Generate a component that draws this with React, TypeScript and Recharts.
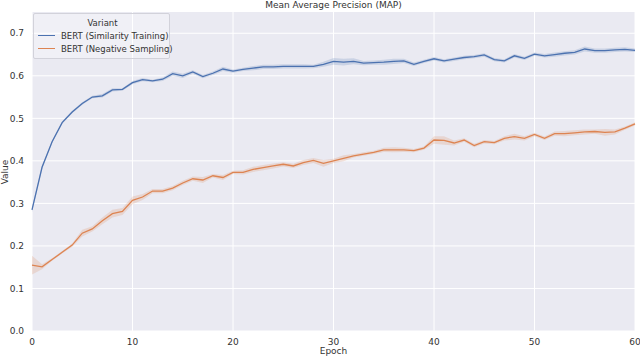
import { ComposedChart, Line, Area, XAxis, YAxis, CartesianGrid } from 'recharts'

const epochs = [
  0, 1, 2, 3, 4, 5, 6, 7, 8, 9, 10, 11, 12, 13, 14, 15, 16, 17, 18, 19, 20,
  21, 22, 23, 24, 25, 26, 27, 28, 29, 30, 31, 32, 33, 34, 35, 36, 37, 38, 39, 40,
  41, 42, 43, 44, 45, 46, 47, 48, 49, 50, 51, 52, 53, 54, 55, 56, 57, 58, 59, 60,
]

// BERT (Similarity Training)
const similarityMean = [
  0.285, 0.385, 0.445, 0.49, 0.515, 0.535, 0.55, 0.553, 0.567, 0.568, 0.584,
  0.591, 0.588, 0.592, 0.605, 0.6, 0.609, 0.598, 0.606, 0.616, 0.611,
  0.615, 0.618, 0.621, 0.621, 0.622, 0.622, 0.622, 0.622, 0.627, 0.634,
  0.632, 0.634, 0.63, 0.631, 0.632, 0.634, 0.635, 0.627, 0.634, 0.64,
  0.635, 0.639, 0.643, 0.645, 0.649, 0.638, 0.635, 0.647, 0.641, 0.651,
  0.647, 0.65, 0.653, 0.655, 0.663, 0.659, 0.659, 0.661, 0.662, 0.66,
]
const similaritySpread = [
  0.006, 0.004, 0.003, 0.003, 0.003, 0.003, 0.003, 0.004, 0.004, 0.003, 0.004,
  0.004, 0.003, 0.004, 0.005, 0.005, 0.004, 0.004, 0.004, 0.005, 0.004,
  0.004, 0.005, 0.005, 0.005, 0.005, 0.005, 0.005, 0.004, 0.006, 0.008,
  0.008, 0.007, 0.005, 0.005, 0.006, 0.006, 0.005, 0.004, 0.004, 0.004,
  0.004, 0.004, 0.004, 0.004, 0.004, 0.004, 0.004, 0.004, 0.004, 0.004,
  0.004, 0.005, 0.005, 0.005, 0.006, 0.005, 0.005, 0.005, 0.005, 0.004,
]

// BERT (Negative Sampling)
const negativeMean = [
  0.155, 0.151, 0.168, 0.185, 0.202, 0.23, 0.24, 0.259, 0.276, 0.281, 0.307,
  0.315, 0.329, 0.329, 0.336, 0.348, 0.358, 0.355, 0.365, 0.361, 0.373,
  0.373, 0.38, 0.384, 0.388, 0.392, 0.388, 0.396, 0.401, 0.394, 0.4,
  0.406, 0.412, 0.416, 0.42, 0.426, 0.426, 0.426, 0.424, 0.43, 0.449,
  0.448, 0.442, 0.449, 0.436, 0.445, 0.443, 0.453, 0.457, 0.453, 0.462,
  0.453, 0.464, 0.464, 0.466, 0.468, 0.469, 0.467, 0.468, 0.477, 0.487,
]
const negativeSpread = [
  0.022, 0.006, 0.003, 0.003, 0.004, 0.008, 0.006, 0.008, 0.009, 0.008, 0.009,
  0.007, 0.005, 0.005, 0.005, 0.005, 0.005, 0.007, 0.004, 0.006, 0.004,
  0.005, 0.006, 0.006, 0.006, 0.005, 0.005, 0.006, 0.006, 0.008, 0.005,
  0.007, 0.004, 0.004, 0.004, 0.005, 0.006, 0.005, 0.004, 0.004, 0.009,
  0.01, 0.006, 0.004, 0.004, 0.004, 0.004, 0.005, 0.007, 0.005, 0.004,
  0.004, 0.005, 0.006, 0.006, 0.006, 0.005, 0.008, 0.006, 0.004, 0.004,
]

const xTicks = [0, 10, 20, 30, 40, 50, 60]
const yTicks = [0, 0.1, 0.2, 0.3, 0.4, 0.5, 0.6, 0.7]

const BLUE = '#4c72b0'
const ORANGE = '#dd8452'
const FONT = '"DejaVu Sans", sans-serif'
const TEXT = '#333'

const data = epochs.map((epoch, i) => ({
  epoch,
  similarity: similarityMean[i],
  similarityBand: [similarityMean[i] - similaritySpread[i], similarityMean[i] + similaritySpread[i]],
  negative: negativeMean[i],
  negativeBand: [negativeMean[i] - negativeSpread[i], negativeMean[i] + negativeSpread[i]],
}))

function LegendBox() {
  const item = (color: string, label: string) => (
    <div style={{ display: 'flex', alignItems: 'center', height: 13 }}>
      <div style={{ width: 17, height: 1.5, background: color, marginRight: 6, flexShrink: 0 }} />
      <span>{label}</span>
    </div>
  )
  return (
    <div
      style={{
        position: 'absolute',
        zIndex: 10,
        left: 33,
        top: 13,
        width: 129,
        padding: '3px 2px 3px 4px',
        background: 'rgba(255,255,255,0.3)',
        border: '1px solid #d2d2da',
        borderRadius: 2,
        fontSize: 8.5,
        color: TEXT,
        lineHeight: '12px',
        whiteSpace: 'nowrap',
      }}
    >
      <div style={{ textAlign: 'center', height: 12 }}>Variant</div>
      {item(BLUE, 'BERT (Similarity Training)')}
      {item(ORANGE, 'BERT (Negative Sampling)')}
    </div>
  )
}

export default function App() {
  const tick = { fontSize: 9, fill: TEXT, fontFamily: FONT }
  return (
    <div style={{ position: 'absolute', left: 0, top: 0, width: 640, height: 359, background: '#fff', fontFamily: FONT }}>
      <div style={{ position: 'absolute', zIndex: 10, left: 32, width: 603, top: 0, textAlign: 'center', fontSize: 9, color: TEXT, lineHeight: '11px' }}>
        Mean Average Precision (MAP)
      </div>
      <ComposedChart width={640} height={359} data={data} margin={{ top: 12, right: 5, bottom: 0, left: 0 }}>
        <CartesianGrid stroke="#ffffff" strokeWidth={1} fill="#eaeaf2" verticalValues={xTicks} horizontalValues={yTicks} />
        <XAxis
          dataKey="epoch"
          type="number"
          domain={[0, 60]}
          ticks={xTicks}
          axisLine={false}
          tickLine={false}
          tick={tick}
          height={28}
        />
        <YAxis
          type="number"
          domain={[0, 0.75]}
          ticks={yTicks}
          tickFormatter={(v: number) => v.toFixed(1)}
          axisLine={false}
          tickLine={false}
          tick={tick}
          width={32}
        />
        <Area dataKey="similarityBand" stroke="none" fill={BLUE} fillOpacity={0.2} isAnimationActive={false} />
        <Area dataKey="negativeBand" stroke="none" fill={ORANGE} fillOpacity={0.2} isAnimationActive={false} />
        <Line dataKey="similarity" stroke={BLUE} strokeWidth={1.3} dot={false} isAnimationActive={false} />
        <Line dataKey="negative" stroke={ORANGE} strokeWidth={1.3} dot={false} isAnimationActive={false} />
      </ComposedChart>
      <LegendBox />
      <div style={{ position: 'absolute', zIndex: 10, left: 32, width: 603, top: 346, textAlign: 'center', fontSize: 9, color: TEXT, lineHeight: '11px' }}>
        Epoch
      </div>
      <div
        style={{
          position: 'absolute',
          zIndex: 10,
          left: 5,
          top: 172,
          fontSize: 9,
          color: TEXT,
          lineHeight: '11px',
          transform: 'translate(-50%, -50%) rotate(-90deg)',
        }}
      >
        Value
      </div>
    </div>
  )
}
